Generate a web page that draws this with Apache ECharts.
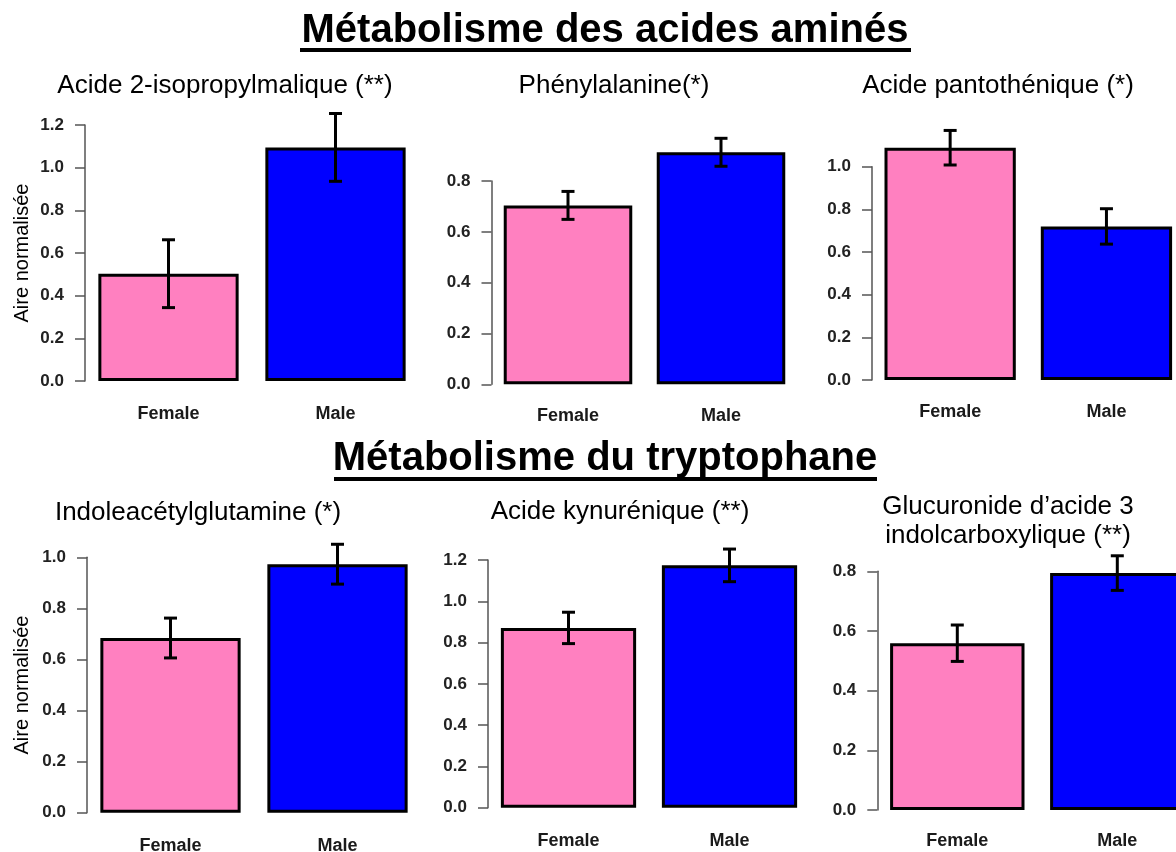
<!DOCTYPE html>
<html>
<head>
<meta charset="utf-8">
<script src="https://cdn.jsdelivr.net/npm/echarts@6/dist/echarts.min.js"></script>
<style>
  html, body { margin: 0; padding: 0; background: #ffffff; }
  #chart { width: 1176px; height: 852px; }
</style>
</head>
<body>
<div id="chart"></div>
<script>
// ---------- data ----------
const categories = ['Female', 'Male'];
const sectionTitles = ['Métabolisme des acides aminés', 'Métabolisme du tryptophane'];
const panelTitles = [
  'Acide 2-isopropylmalique (**)',
  'Phénylalanine(*)',
  'Acide pantothénique (*)',
  'Indoleacétylglutamine (*)',
  'Acide kynurénique (**)',
  'Glucuronide d\u2019acide 3\nindolcarboxylique (**)'
];
const yAxisName = 'Aire normalisée';
const femaleMean = [0.503, 0.704, 1.089, 0.684, 0.871, 0.559];
const femaleSE   = [0.159, 0.055, 0.081, 0.078, 0.076, 0.061];
const maleMean   = [1.095, 0.913, 0.720, 0.973, 1.174, 0.794];
const maleSE     = [0.159, 0.055, 0.083, 0.078, 0.079, 0.058];
const yTickMax   = [1.2, 0.8, 1.0, 1.0, 1.2, 0.8];
const yTickStep  = 0.2;

// ---------- layout (pixels) ----------
const panelLayout = [
  { left: 85,    width: 334,   top: 125,   bottom0: 381,   showName: true,  nameGap: 53, labelMargin: 24, tx: 225,  ty: 86 },
  { left: 491.5, width: 306,   top: 181,   bottom0: 384.3, showName: false, nameGap: 0,  labelMargin: 23, tx: 614,  ty: 86 },
  { left: 872,   width: 312.6, top: 166.7, bottom0: 380,   showName: false, nameGap: 0,  labelMargin: 23, tx: 998,  ty: 86 },
  { left: 87,    width: 334,   top: 557.3, bottom0: 812.7, showName: true,  nameGap: 55, labelMargin: 24, tx: 198,  ty: 513 },
  { left: 488,   width: 322,   top: 560,   bottom0: 807.7, showName: false, nameGap: 0,  labelMargin: 24, tx: 620,  ty: 512 },
  { left: 877.3, width: 320,   top: 571.3, bottom0: 810,   showName: false, nameGap: 0,  labelMargin: 22, tx: 1008, ty: 521 }
];
const barColors = ['#FF80C0', '#0000FF'];
const FONT = '"Liberation Sans", Arial, Helvetica, sans-serif';

const grids = [], xAxes = [], yAxes = [], series = [], graphics = [];

panelLayout.forEach((p, i) => {
  grids.push({ left: p.left, width: p.width, top: p.top, height: p.bottom0 - p.top,
               containLabel: false, outerBoundsMode: 'none' });
  xAxes.push({
    type: 'category', gridIndex: i, data: categories,
    axisLine: { show: false }, axisTick: { show: false }, splitLine: { show: false },
    axisLabel: { margin: p.labelMargin, fontFamily: FONT, fontWeight: 'bold', fontSize: 18, color: '#1a1a1a' }
  });
  yAxes.push({
    type: 'value', gridIndex: i, min: 0, max: yTickMax[i], interval: yTickStep,
    name: p.showName ? yAxisName : '', nameLocation: 'middle', nameRotate: 90, nameGap: p.nameGap,
    nameTextStyle: { fontFamily: FONT, fontSize: 20, color: '#000' },
    axisLine: { show: true, lineStyle: { color: '#555', width: 1.5 } },
    axisTick: { show: true, length: 10, lineStyle: { color: '#555', width: 1.5 } },
    splitLine: { show: false },
    axisLabel: { margin: 21, fontFamily: FONT, fontWeight: 'bold', fontSize: 17, color: '#222',
                 formatter: v => v.toFixed(1) }
  });
  series.push({
    type: 'bar', xAxisIndex: i, yAxisIndex: i, clip: false,
    barCategoryGap: '16%',
    data: [
      { value: femaleMean[i], itemStyle: { color: barColors[0] } },
      { value: maleMean[i],   itemStyle: { color: barColors[1] } }
    ],
    itemStyle: { borderColor: '#000', borderWidth: 3 },
    emphasis: { disabled: true },
    animation: false
  });
  series.push({
    type: 'custom', xAxisIndex: i, yAxisIndex: i, z: 5, clip: false,
    encode: { x: 0, y: 1 },
    data: [[0, femaleMean[i], femaleSE[i]], [1, maleMean[i], maleSE[i]]],
    renderItem: function (params, api) {
      const xi = api.value(0), m = api.value(1), se = api.value(2);
      const top = api.coord([xi, m + se]);
      const bot = api.coord([xi, m - se]);
      const cw = 6.5;
      const st = { stroke: '#000', lineWidth: 3 };
      return {
        type: 'group',
        children: [
          { type: 'line', shape: { x1: top[0], y1: top[1], x2: bot[0], y2: bot[1] }, style: st },
          { type: 'line', shape: { x1: top[0] - cw, y1: top[1], x2: top[0] + cw, y2: top[1] }, style: st },
          { type: 'line', shape: { x1: bot[0] - cw, y1: bot[1], x2: bot[0] + cw, y2: bot[1] }, style: st }
        ]
      };
    },
    animation: false
  });
  graphics.push({
    type: 'text', x: p.tx, y: p.ty, z: 10,
    style: { text: panelTitles[i], align: 'center', verticalAlign: 'middle',
             font: '26px ' + FONT, fill: '#000', lineHeight: 29 }
  });
});

// section titles with underline
const sec = [
  { x: 605, y: 31, ux1: 300, ux2: 911, uy: 50 },
  { x: 605, y: 459, ux1: 334, ux2: 877, uy: 479 }
];
sec.forEach((s, k) => {
  graphics.push({
    type: 'text', x: s.x, y: s.y, z: 10,
    style: { text: sectionTitles[k], align: 'center', verticalAlign: 'middle',
             font: 'bold 40px ' + FONT, fill: '#000' }
  });
  graphics.push({
    type: 'line', z: 10,
    shape: { x1: s.ux1, y1: s.uy, x2: s.ux2, y2: s.uy },
    style: { stroke: '#000', lineWidth: 4 }
  });
});

const chart = echarts.init(document.getElementById('chart'), null, { renderer: 'canvas' });
chart.setOption({
  backgroundColor: '#ffffff',
  animation: false,
  grid: grids, xAxis: xAxes, yAxis: yAxes, series: series,
  graphic: graphics
});
</script>
</body>
</html>
